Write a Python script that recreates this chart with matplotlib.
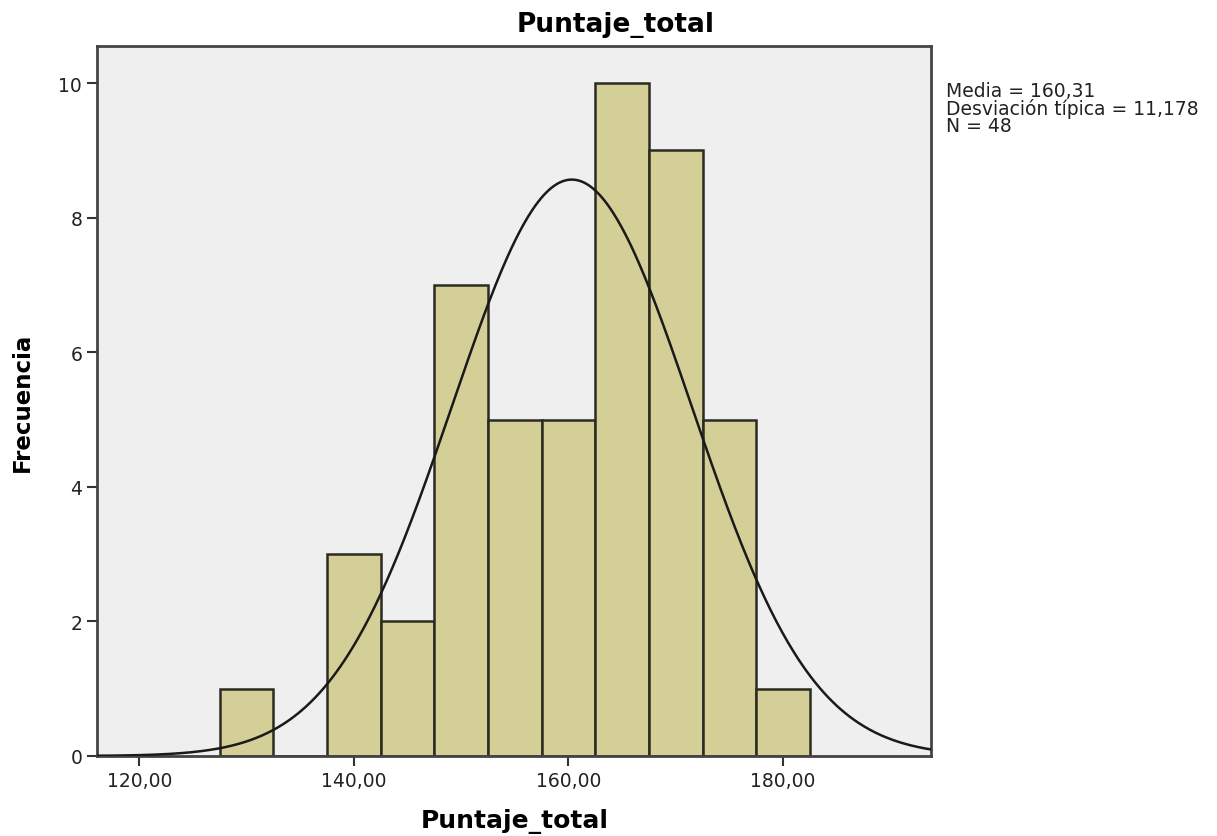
import numpy as np
import matplotlib
matplotlib.use("Agg")
import matplotlib.pyplot as plt

plt.rcParams['font.family'] = ['DejaVu Sans']

# Histogram bins (width 5) and counts
bin_edges = [127.5, 132.5, 137.5, 142.5, 147.5, 152.5, 157.5, 162.5, 167.5, 172.5, 177.5, 182.5]
counts = [1, 0, 3, 2, 7, 5, 5, 10, 9, 5, 1]

media = 160.31
desviacion = 11.178
n_total = 48

x_ticks = [120, 140, 160, 180]
x_ticklabels = ["120,00", "140,00", "160,00", "180,00"]
y_ticks = [0, 2, 4, 6, 8, 10]

fig = plt.figure(figsize=(12.17, 8.37), dpi=100)
ax = fig.add_axes([0.0801, 0.0956, 0.685, 0.8482])
ax.set_facecolor('#EFEFEF')

lefts = bin_edges[:-1]
widths = np.diff(bin_edges)
ax.bar(lefts, counts, width=widths, align='edge', color='#D4CF96',
       edgecolor='#2B2B22', linewidth=1.8, zorder=2)

# Normal curve scaled to counts
xs = np.linspace(115, 195, 600)
bw = widths[0]
ys = n_total * bw / (desviacion * np.sqrt(2 * np.pi)) * np.exp(-0.5 * ((xs - media) / desviacion) ** 2)
ax.plot(xs, ys, color='#1A1A1A', linewidth=1.8, zorder=3)

ax.set_xlim(116.1, 193.8)
ax.set_ylim(0, 10.55)
ax.set_xticks(x_ticks)
ax.set_xticklabels(x_ticklabels)
ax.set_yticks(y_ticks)
ax.tick_params(axis='both', direction='out', length=7, width=1.5, color='#333333',
               labelsize=13.5, labelcolor='#222222', pad=4)
for sp in ax.spines.values():
    sp.set_color('#444444')
    sp.set_linewidth(2)

# Chart title centred across the whole figure
fig.text(616 / 1217, 1 - 25 / 837, 'Puntaje_total', fontsize=19, fontweight='bold',
         ha='center', va='center')
ax.set_xlabel('Puntaje_total', fontsize=18, fontweight='bold', labelpad=13)
ax.set_ylabel('Frecuencia', fontsize=16.5, fontweight='bold', labelpad=18)

fig.text(946 / 1217, 1 - 82 / 837,
         'Media = 160,31\nDesviación típica = 11,178\nN = 48',
         fontsize=13.5, va='top', ha='left', color='#222222', linespacing=0.88)

fig.savefig('out.png', dpi=100)
